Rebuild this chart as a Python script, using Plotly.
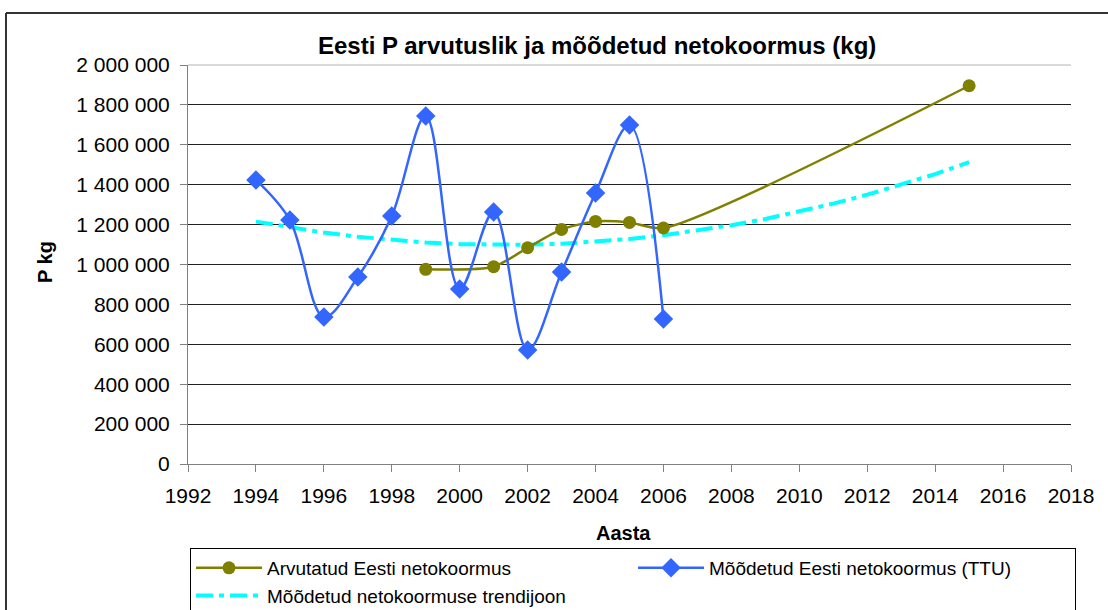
import plotly.graph_objects as go

# ---- data ----
calc_years = [1999, 2001, 2002, 2003, 2004, 2005, 2006, 2015]
calc_vals = [976000, 989000, 1084000, 1176000, 1216000, 1211000, 1183000, 1896000]

meas_years = [1994, 1995, 1996, 1997, 1998, 1999, 2000, 2001, 2002, 2003, 2004, 2005, 2006]
meas_vals = [1424000, 1223000, 737000, 937000, 1243000, 1744000, 877000, 1263000,
             571000, 962000, 1358000, 1699000, 727000]

trend_years = list(range(1994, 2016))
trend_vals = [1215000, 1185000, 1160000, 1139000, 1122000, 1110000, 1102000, 1098000,
              1099000, 1104000, 1114000, 1128000, 1147000, 1170000, 1197000, 1228000,
              1265000, 1305000, 1350000, 1399000, 1453000, 1513000]

x_ticks = list(range(1992, 2019, 2))
y_ticks = list(range(0, 2000001, 200000))

title_text = "Eesti P arvutuslik ja mõõdetud netokoormus (kg)"
name_calc = "Arvutatud Eesti netokoormus"
name_meas = "Mõõdetud Eesti netokoormus (TTU)"
name_trend = "Mõõdetud netokoormuse trendijoon"

# ---- layout geometry (pixels) ----
W, H = 1108, 610
PL, PR, PT, PB = 188, 1071, 65, 464
pw, ph = PR - PL, PB - PT


def px(x):
    return (x - PL) / pw


def py(y):
    return (PB - y) / ph


FONT = "Liberation Sans, Arial, sans-serif"

fig = go.Figure()

fig.add_trace(go.Scatter(
    x=trend_years, y=trend_vals, name=name_trend, mode="lines",
    line=dict(color="#00FFFF", width=4, dash="17px,6px,5px,6px"),
    legendrank=3, hoverinfo="skip"))

fig.add_trace(go.Scatter(
    x=calc_years, y=calc_vals, name=name_calc, mode="lines+markers",
    line=dict(color="#808000", width=2.5, shape="spline", smoothing=0.7),
    marker=dict(symbol="circle", size=13, color="#808000"),
    legendrank=1))

fig.add_trace(go.Scatter(
    x=meas_years, y=meas_vals, name=name_meas, mode="lines+markers",
    line=dict(color="#3366FF", width=2.5, shape="spline", smoothing=1),
    marker=dict(symbol="diamond", size=15, color="#3366FF"),
    legendrank=2))

fig.update_layout(
    width=W, height=H,
    margin=dict(l=PL, r=W - PR, t=PT, b=H - PB, pad=0, autoexpand=False),
    paper_bgcolor="white", plot_bgcolor="white",
    font=dict(family=FONT, size=20, color="black"),
    separators=", ",
    showlegend=True,
    legend=dict(
        orientation="h", x=px(190), xanchor="left", y=py(548), yanchor="top",
        bordercolor="black", borderwidth=1, bgcolor="white",
        font=dict(family=FONT, size=19, color="black"),
        entrywidth=361, entrywidthmode="pixels", traceorder="normal",
        itemwidth=66,
    ),
    xaxis=dict(
        range=[1992, 2018], tickvals=x_ticks, ticktext=[str(t) for t in x_ticks],
        showgrid=False, zeroline=False, showline=True, linecolor="#808080", linewidth=1,
        ticks="outside", ticklen=7, tickcolor="#808080", ticklabelstandoff=6,
        tickfont=dict(family=FONT, size=21, color="black"),
    ),
    yaxis=dict(
        range=[0, 2000000], tickvals=y_ticks, tickformat=",d",
        showgrid=True, gridcolor="#202020", gridwidth=1, zeroline=False,
        showline=True, linecolor="#808080", linewidth=1,
        ticks="outside", ticklen=7, tickcolor="#808080", ticklabelstandoff=6,
        tickfont=dict(family=FONT, size=21, color="black"),
    ),
    shapes=[
        # light top gridline at 2 000 000
        dict(type="line", xref="paper", yref="paper", x0=0, x1=1, y0=1, y1=1,
             line=dict(color="#D9D9D9", width=2), layer="above"),
        # outer chart frame
        dict(type="line", xref="paper", yref="paper", x0=px(6), x1=px(W + 20),
             y0=py(13), y1=py(13), line=dict(color="#333333", width=2)),
        dict(type="line", xref="paper", yref="paper", x0=px(6), x1=px(6),
             y0=py(13), y1=py(H + 20), line=dict(color="#333333", width=2)),
    ],
    annotations=[
        dict(text="<b>" + title_text + "</b>", xref="paper", yref="paper",
             x=px(597), y=py(45), xanchor="center", yanchor="middle",
             showarrow=False, font=dict(family=FONT, size=24, color="black")),
        dict(text="<b>Aasta</b>", xref="paper", yref="paper",
             x=px(623), y=py(533), xanchor="center", yanchor="middle",
             showarrow=False, font=dict(family=FONT, size=20, color="black")),
        dict(text="<b>P kg</b>", xref="paper", yref="paper", textangle=-90,
             x=px(45), y=py(262), xanchor="center", yanchor="middle",
             showarrow=False, font=dict(family=FONT, size=20, color="black")),
    ],
)

fig.write_html("out.html", config={"displayModeBar": False},
               post_script="document.body.style.margin='0';")
